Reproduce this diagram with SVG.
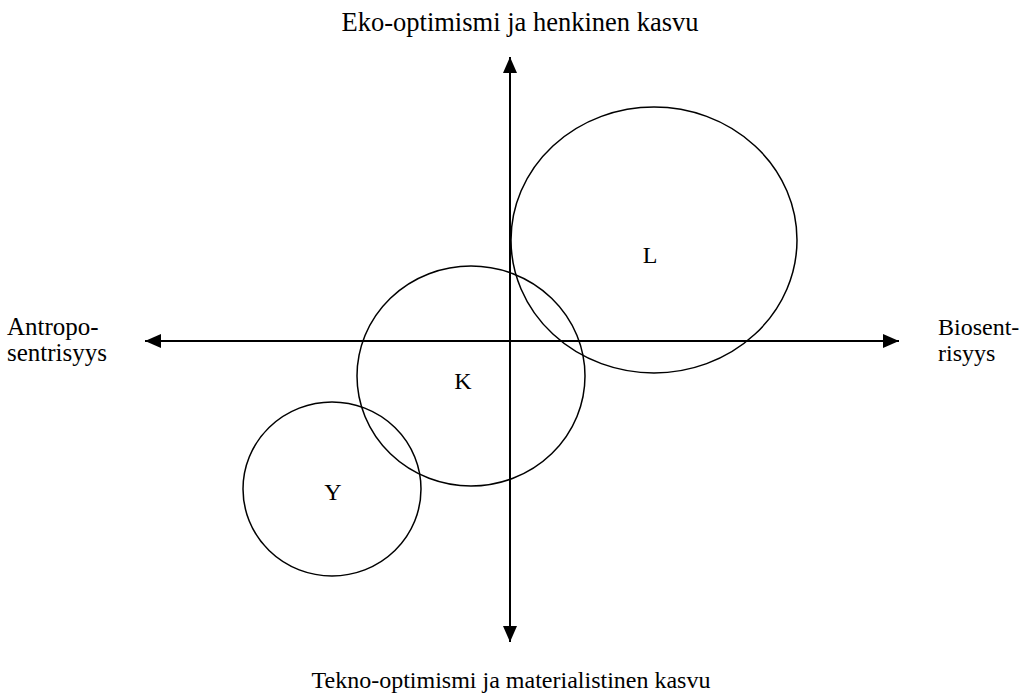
<svg xmlns="http://www.w3.org/2000/svg" width="1027" height="693" viewBox="0 0 1027 693">
<style>
text{font-family:"Liberation Serif","Times New Roman",serif;font-size:24px;fill:#000}
.c{fill:none;stroke:#000;stroke-width:1.5}
.ax{stroke:#000;stroke-width:2;fill:none}
</style>
<defs>
<marker id="ah" viewBox="0 0 16 14" refX="16" refY="7" markerWidth="16" markerHeight="14" markerUnits="userSpaceOnUse" orient="auto">
<path d="M0,0 L16,7 L0,14 Z" fill="#000"/>
</marker>
</defs>
<rect width="1027" height="693" fill="#fff"/>
<g id="connectors">
<line class="ax" x1="510" y1="341" x2="510" y2="57" marker-end="url(#ah)"/>
<line class="ax" x1="510" y1="341" x2="510" y2="642" marker-end="url(#ah)"/>
<line class="ax" x1="510" y1="341" x2="145" y2="341" marker-end="url(#ah)"/>
<line class="ax" x1="510" y1="341" x2="899" y2="341" marker-end="url(#ah)"/>
</g>
<g id="L"><ellipse class="c" cx="654" cy="240" rx="143" ry="133"/><text x="650" y="263" text-anchor="middle">L</text></g>
<g id="K"><ellipse class="c" cx="471" cy="376" rx="114" ry="110"/><text x="463" y="389" text-anchor="middle">K</text></g>
<g id="Y"><ellipse class="c" cx="332" cy="489" rx="89" ry="87"/><text x="333" y="500" text-anchor="middle">Y</text></g>
<g id="labels">
<text x="520" y="31" text-anchor="middle" style="font-size:26.5px">Eko-optimismi ja henkinen kasvu</text>
<text x="511" y="688" text-anchor="middle">Tekno-optimismi ja materialistinen kasvu</text>
<text x="7" y="335" style="font-size:25px">Antropo-</text>
<text x="7" y="361" style="font-size:25px">sentrisyys</text>
<text x="938" y="335">Biosent-</text>
<text x="938" y="361">risyys</text>
</g>
</svg>
